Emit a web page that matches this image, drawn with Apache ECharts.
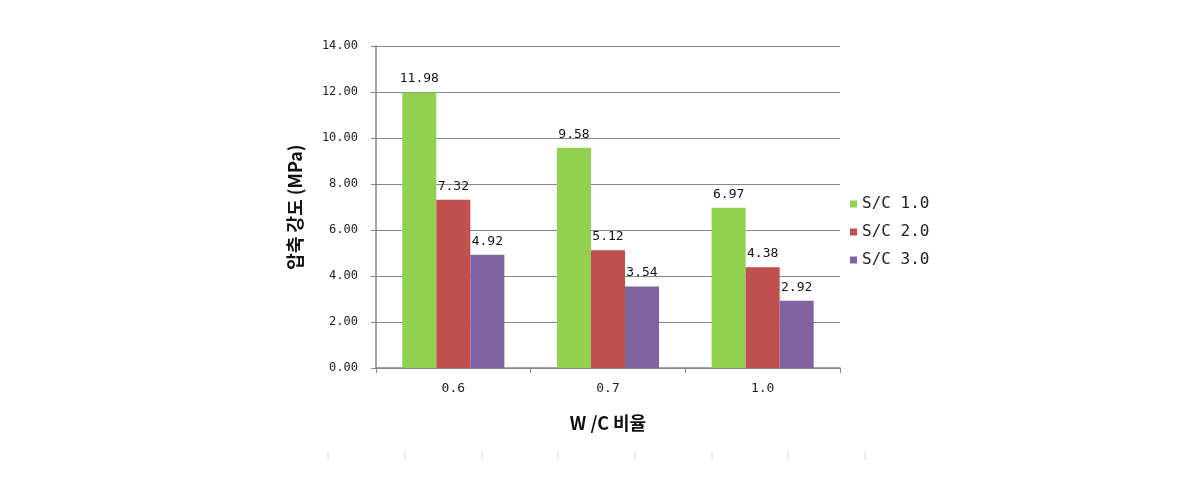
<!DOCTYPE html>
<html>
<head>
<meta charset="utf-8">
<script src="https://cdn.jsdelivr.net/npm/echarts@6/dist/echarts.min.js"></script>
<style>
  html, body { margin: 0; padding: 0; background: #fff; }
  #chart { width: 1190px; height: 482px; }
</style>
</head>
<body>
<div id="chart"></div>
<script>
// W/C 비율별 압축 강도
var categories = ['0.6', '0.7', '1.0'];
var seriesNames = ['S/C 1.0', 'S/C 2.0', 'S/C 3.0'];
var sc10 = [11.98, 9.58, 6.97];
var sc20 = [7.32, 5.12, 4.38];
var sc30 = [4.92, 3.54, 2.92];
var colors = ['#92d050', '#c0504d', '#8064a2'];

var monoFont = 'DejaVu Sans Mono';
var krFont = 'Noto Sans CJK KR';

function makeSeries(name, data, color) {
    return {
        name: name,
        type: 'bar',
        data: data,
        barGap: '0%',
        barCategoryGap: '34%',
        itemStyle: { color: color },
        label: {
            show: true,
            position: 'top',
            distance: 7,
            color: '#111',
            fontFamily: monoFont,
            fontSize: 13,
            formatter: function (p) { return p.value.toFixed(2); }
        }
    };
}

// 아래쪽 흐린 눈금 (원본 잔상)
var faintTicks = [];
[328, 405, 482, 558, 635, 712, 788, 865].forEach(function (x) {
    faintTicks.push({
        type: 'line',
        shape: { x1: x, y1: 451, x2: x, y2: 460 },
        style: { stroke: '#d8d8d8', lineWidth: 1 }
    });
});

var chart = echarts.init(document.getElementById('chart'));
chart.setOption({
    animation: false,
    color: colors,
    grid: { left: 376, right: 350, top: 46, bottom: 114 },
    graphic: faintTicks,
    legend: {
        data: seriesNames,
        orient: 'vertical',
        left: 845,
        top: 191,
        icon: 'rect',
        itemWidth: 7,
        itemHeight: 7,
        itemGap: 12,
        textStyle: { fontFamily: monoFont, fontSize: 16, color: '#222' }
    },
    xAxis: {
        type: 'category',
        data: categories,
        name: 'W /C 비율',
        nameLocation: 'middle',
        nameGap: 46,
        nameTextStyle: { fontFamily: krFont, fontSize: 18, fontWeight: 'bold', color: '#111' },
        axisLine: { lineStyle: { color: '#888', width: 1.5 } },
        axisTick: { show: true, length: 5, lineStyle: { color: '#888' } },
        axisLabel: { fontFamily: monoFont, fontSize: 13, color: '#222', margin: 14 }
    },
    yAxis: {
        type: 'value',
        min: 0,
        max: 14,
        interval: 2,
        name: '압축 강도 (MPa)',
        nameLocation: 'middle',
        nameGap: 72,
        nameRotate: 90,
        nameTextStyle: { fontFamily: krFont, fontSize: 18, fontWeight: 'bold', color: '#111' },
        axisLine: { show: true, lineStyle: { color: '#888', width: 1.5 } },
        axisTick: { show: true, length: 5, lineStyle: { color: '#888' } },
        splitLine: { lineStyle: { color: '#888', width: 1 } },
        axisLabel: {
            fontFamily: monoFont,
            fontSize: 12,
            color: '#222',
            margin: 18,
            formatter: function (v) { return v.toFixed(2); }
        }
    },
    series: [
        makeSeries(seriesNames[0], sc10, colors[0]),
        makeSeries(seriesNames[1], sc20, colors[1]),
        makeSeries(seriesNames[2], sc30, colors[2])
    ]
});
</script>
</body>
</html>
